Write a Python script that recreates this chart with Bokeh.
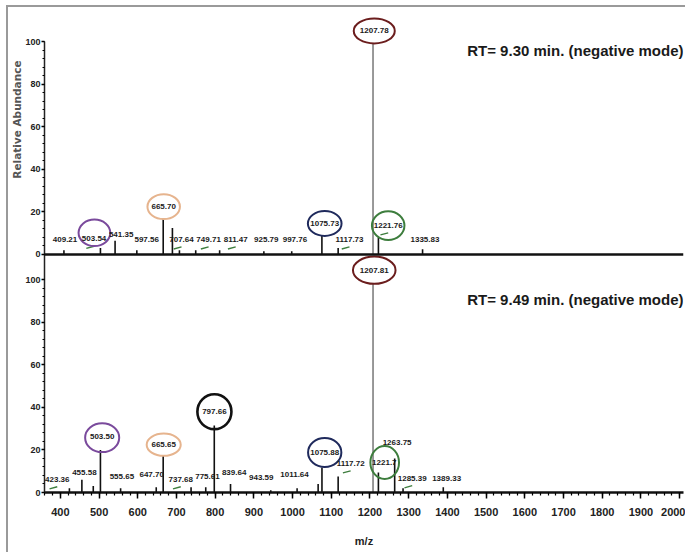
from bokeh.plotting import figure
from bokeh.models import (Span, Label, Title, SingleIntervalTicker, FixedTicker,
                          CustomJSTickFormatter, ColumnDataSource, Range1d)
from bokeh.layouts import column
from bokeh.embed import file_html
from bokeh.resources import INLINE
from bokeh.core.properties import value

# ---------------- data: RT = 9.30 min (upper spectrum) ----------------
mz_a = [409.21, 503.54, 541.35, 597.56, 665.70, 689.5, 707.64, 749.71, 811.47,
        925.79, 997.76, 1075.73, 1117.73, 1207.78, 1221.76, 1335.83]
int_a = [2, 3, 6.5, 2, 17, 12.5, 2, 2, 2, 1.5, 1.5, 9, 3, 100, 8, 2.5]

lab_a = ["409.21", "503.54", "541.35", "597.56", "665.70", "707.64", "749.71", "811.47",
         "925.79", "997.76", "1075.73", "1117.73", "1207.78", "1221.76", "1335.83"]

# ---------------- data: RT = 9.49 min (lower spectrum) ----------------
mz_b = [423.36, 455.58, 485.0, 503.50, 555.65, 647.70, 665.65, 737.68, 775.61, 797.66,
        839.64, 943.59, 1011.64, 1066.0, 1075.88, 1117.72, 1207.81, 1221.70, 1263.75,
        1285.39, 1389.33]
int_b = [2, 6, 3, 20, 2, 2.5, 17.4, 2.5, 2.5, 31.5, 4, 1, 2, 4, 11.7, 7.5, 100, 9.4, 16,
         2, 2.5]

lab_b = ["423.36", "455.58", "503.50", "555.65", "647.70", "665.65", "737.68", "775.61",
         "797.66", "839.64", "943.59", "1011.64", "1075.88", "1117.72", "1207.81", "1221.7",
         "1263.75", "1285.39", "1389.33"]

title_a = "RT= 9.30 min. (negative mode)"
title_b = "RT= 9.49 min. (negative mode)"
y_title = "Relative Abundance"
x_title = "m/z"
y_tick_vals = [0, 20, 40, 60, 80, 100]

# ---------------- annotation layout (label anchors, rings) ----------------
lab_a_xy = [(412, 7.0), (487, 7.3), (557, 9.5), (623, 7.0), (667, 22.5), (713, 7.0),
            (783, 7.0), (853, 7.0), (932, 7.0), (1006, 7.0), (1083, 14.6), (1147, 7.0),
            (1211, 105.2), (1247, 13.6), (1342, 7.0)]
lab_b_xy = [(392, 6.1), (462, 9.4), (508, 26.3), (559, 7.5), (636, 8.5), (667, 22.5),
            (711, 6.1), (780, 7.5), (798, 38.0), (849, 9.4), (919, 7.0), (1005, 8.5),
            (1083, 18.8), (1150, 13.6), (1211, 104.6), (1237, 14.1), (1270, 23.5),
            (1309, 6.6), (1398, 6.6)]

PURPLE, TAN, NAVY, MAROON, GREEN, BLACK = "#7a4a9c", "#e6b48e", "#1f2a5c", "#6b1d1d", "#3d7d3d", "#111111"
rings_a = [(488, 10.2, 82, 12.5, PURPLE, 2), (667, 22.5, 84, 11.7, TAN, 2),
           (1083, 14.6, 87, 11.7, NAVY, 2), (1211, 105.2, 106, 11.7, MAROON, 2),
           (1247, 13.6, 84, 13.6, GREEN, 2)]
rings_b = [(508, 25.8, 88, 13.6, PURPLE, 2), (667, 22.5, 88, 10.5, TAN, 2),
           (798, 38.0, 88, 16.4, BLACK, 2.6), (1083, 18.8, 86, 13.6, NAVY, 2),
           (1211, 104.6, 110, 12.8, MAROON, 2), (1238, 14.1, 74, 15.5, GREEN, 2)]
hooks_a = ["503.54", "707.64", "749.71", "811.47", "1117.73", "1221.76"]
hooks_b = ["423.36", "737.68", "1117.72", "1285.39"]

FONT = "Liberation Sans"
OFF = 112          # vertical offset of the upper spectrum (stacked panels share one frame)

p = figure(width=677, height=545, x_range=Range1d(359, 2010), y_range=Range1d(0, 226.35),
           output_backend="svg", toolbar_location=None,
           min_border_left=32, min_border_right=2, min_border_top=4, min_border_bottom=60)
p.xgrid.visible = False
p.ygrid.visible = False
p.outline_line_color = None

# y axis: two stacked 0-100 scales
ticks = [v for v in y_tick_vals] + [v + OFF for v in y_tick_vals]
minors = [v for v in range(0, 101, 4)] + [v + OFF for v in range(0, 101, 4)]
p.yaxis.ticker = FixedTicker(ticks=ticks, minor_ticks=minors)
p.yaxis.formatter = CustomJSTickFormatter(args=dict(off=OFF),
                                          code="return (tick >= off ? tick - off : tick).toFixed(0)")
p.yaxis.bounds = (0, 100 + OFF)
p.yaxis.axis_line_width = 1.5
p.yaxis.axis_line_color = "#222222"
p.yaxis.major_tick_out = 3
p.yaxis.major_tick_in = 0
p.yaxis.minor_tick_out = 2
p.yaxis.minor_tick_in = 0
p.yaxis.major_tick_line_width = 1.5
p.yaxis.major_label_standoff = 1
p.yaxis.major_label_text_font = FONT
p.yaxis.major_label_text_font_style = "bold"
p.yaxis.major_label_text_font_size = "9px"
p.yaxis.major_label_text_color = "#222222"

# x axis
p.xaxis.ticker = SingleIntervalTicker(interval=100, num_minor_ticks=5)
p.xaxis.axis_line_width = 2.5
p.xaxis.axis_line_color = "#111111"
p.xaxis.major_tick_out = 6
p.xaxis.major_tick_in = 0
p.xaxis.minor_tick_out = 3
p.xaxis.minor_tick_in = 0
p.xaxis.major_tick_line_width = 1.5
p.xaxis.minor_tick_line_width = 1.2
p.xaxis.major_label_standoff = 9
p.xaxis.major_label_text_font = FONT
p.xaxis.major_label_text_font_style = "bold"
p.xaxis.major_label_text_font_size = "11px"
p.xaxis.major_label_text_color = "#222222"
p.xaxis.axis_label = x_title
p.xaxis.axis_label_standoff = 16
p.xaxis.axis_label_text_font = FONT
p.xaxis.axis_label_text_font_style = "bold"
p.xaxis.axis_label_text_font_size = "11px"
p.xaxis.axis_label_text_color = "#222222"

# y title placed beside the upper spectrum
p.add_layout(Title(text=y_title, align="right", offset=49, standoff=0,
                   text_font="DejaVu Sans", text_font_style="bold", text_font_size="10.5px",
                   text_color="#555555"), "left")

# baseline of the upper spectrum
p.add_layout(Span(location=OFF, dimension="width", line_color="#111111", line_width=2.5))


def draw_panel(mz, inten, labels, lab_xy, rings, hooks, base):
    big = [v >= 99 for v in inten]
    src = ColumnDataSource(dict(mz=[m for m, b in zip(mz, big) if not b],
                                y0=[base for b in big if not b],
                                h=[base + v for v, b in zip(inten, big) if not b]))
    p.segment(x0="mz", y0="y0", x1="mz", y1="h", source=src, line_color="#111111", line_width=1.6)
    srcb = ColumnDataSource(dict(mz=[m for m, b in zip(mz, big) if b],
                                 y0=[base for b in big if b],
                                 h=[base + v for v, b in zip(inten, big) if b]))
    p.segment(x0="mz", y0="y0", x1="mz", y1="h", source=srcb, line_color="#555555", line_width=1.2)
    hx0, hx1, hy0, hy1 = [], [], [], []
    for t, (lx, ly) in zip(labels, lab_xy):
        if t in hooks:
            hx0.append(lx - 20); hx1.append(lx); hy0.append(base + ly - 4.4); hy1.append(base + ly - 3.4)
    p.segment(x0=hx0, y0=hy0, x1=hx1, y1=hy1, line_color=GREEN, line_width=1.4)
    p.ellipse(x=[r[0] for r in rings], y=[base + r[1] for r in rings],
              width=[r[2] for r in rings], height=[r[3] for r in rings],
              line_color=[r[4] for r in rings], line_width=[r[5] for r in rings],
              fill_color="white", fill_alpha=[1.0 if r[4] == MAROON else 0.0 for r in rings])
    p.text(x=[xy[0] for xy in lab_xy], y=[base + xy[1] for xy in lab_xy], text=labels,
           text_align="center", text_baseline="middle", text_font=value(FONT),
           text_font_style="bold", text_font_size="8px", text_color="#1a1a1a")


draw_panel(mz_a, int_a, lab_a, lab_a_xy, rings_a, hooks_a, OFF)
draw_panel(mz_b, int_b, lab_b, lab_b_xy, rings_b, hooks_b, 0)

p.add_layout(Label(x=2010, y=OFF + 95.8, text=title_a, text_align="right", text_baseline="middle",
                   text_font=FONT, text_font_style="bold", text_font_size="15px",
                   text_color="#1a1a1a"))
p.add_layout(Label(x=2010, y=91, text=title_b, text_align="right", text_baseline="middle",
                   text_font=FONT, text_font_style="bold", text_font_size="15px",
                   text_color="#1a1a1a"))

layout = column(p, styles={"margin-left": "6px", "margin-top": "5px",
                           "border-left": "2px solid #9a9a9a", "border-top": "2px solid #9a9a9a"})

open("out.html", "w").write(file_html(layout, INLINE))
